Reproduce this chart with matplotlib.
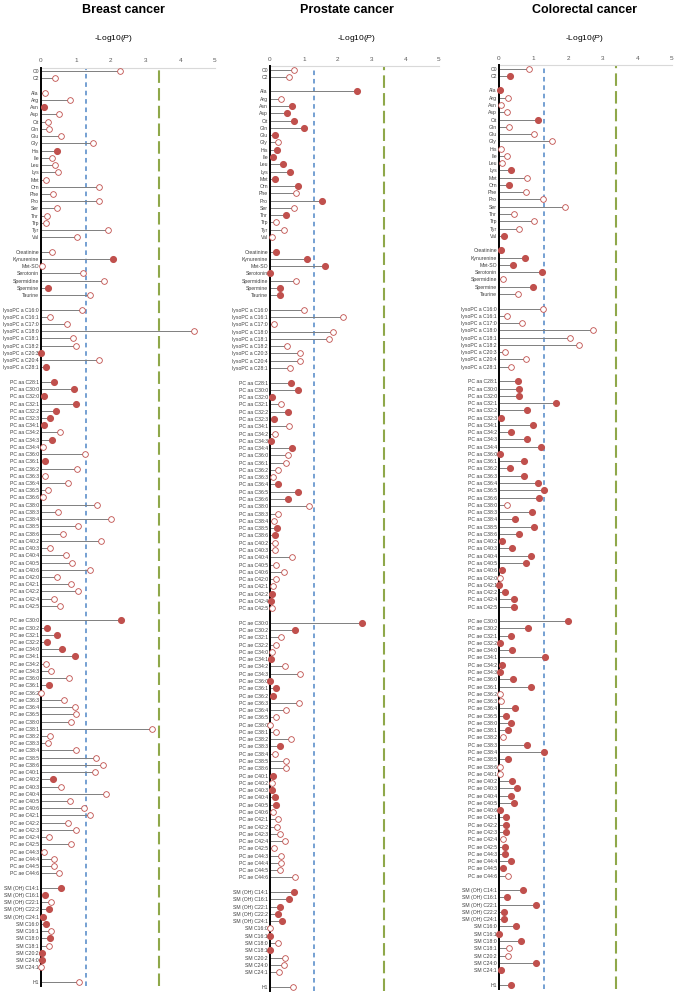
import numpy as np
import matplotlib.pyplot as plt

plt.rcParams['font.family'] = ['Liberation Sans', 'DejaVu Sans']
plt.rcParams['mathtext.fontset'] = 'custom'
plt.rcParams['mathtext.rm'] = 'Liberation Sans'
plt.rcParams['mathtext.it'] = 'Liberation Sans:italic'

# metabolite groups, in plotting order (a blank row between groups)
acylcarnitines = ['C0', 'C2']
amino_acids = ['Ala', 'Arg', 'Asn', 'Asp', 'Cit', 'Gln', 'Glu', 'Gly', 'His', 'Ile', 'Leu',
               'Lys', 'Met', 'Orn', 'Phe', 'Pro', 'Ser', 'Thr', 'Trp', 'Tyr', 'Val']
biogenic_amines = ['Creatinine', 'Kynurenine', 'Met-SO', 'Serotonin', 'Spermidine', 'Spermine', 'Taurine']
lyso_pcs = ['lysoPC a C16:0', 'lysoPC a C16:1', 'lysoPC a C17:0', 'lysoPC a C18:0', 'lysoPC a C18:1',
            'lysoPC a C18:2', 'lysoPC a C20:3', 'lysoPC a C20:4', 'lysoPC a C28:1']
pc_aa = ['PC aa ' + c for c in ['C28:1', 'C30:0', 'C32:0', 'C32:1', 'C32:2', 'C32:3', 'C34:1', 'C34:2',
                                'C34:3', 'C34:4', 'C36:0', 'C36:1', 'C36:2', 'C36:3', 'C36:4', 'C36:5',
                                'C36:6', 'C38:0', 'C38:3', 'C38:4', 'C38:5', 'C38:6', 'C40:2', 'C40:3',
                                'C40:4', 'C40:5', 'C40:6', 'C42:0', 'C42:1', 'C42:2', 'C42:4', 'C42:5']]
pc_ae = ['PC ae ' + c for c in ['C30:0', 'C30:2', 'C32:1', 'C32:2', 'C34:0', 'C34:1', 'C34:2', 'C34:3',
                                'C36:0', 'C36:1', 'C36:2', 'C36:3', 'C36:4', 'C36:5', 'C38:0', 'C38:1',
                                'C38:2', 'C38:3', 'C38:4', 'C38:5', 'C38:6', 'C40:1', 'C40:2', 'C40:3',
                                'C40:4', 'C40:5', 'C40:6', 'C42:1', 'C42:2', 'C42:3', 'C42:4', 'C42:5',
                                'C44:3', 'C44:4', 'C44:5', 'C44:6']]
sphingomyelins = ['SM (OH) C14:1', 'SM (OH) C16:1', 'SM (OH) C22:1', 'SM (OH) C22:2', 'SM (OH) C24:1',
                  'SM C16:0', 'SM C16:1', 'SM C18:0', 'SM C18:1', 'SM C20:2', 'SM C24:0', 'SM C24:1']
hexose = ['H1']

# -log10(P) per metabolite, same order as the groups above
breast_logp = [2.28, 0.39,
               0.11, 0.83, 0.08, 0.52, 0.20, 0.22, 0.57, 1.48, 0.46, 0.31, 0.39, 0.49, 0.14, 1.66, 0.34,
               1.68, 0.47, 0.17, 0.14, 1.92, 1.03,
               0.33, 2.06, 0.03, 1.20, 1.81, 0.19, 1.42,
               1.18, 0.26, 0.75, 4.40, 0.92, 1.01, 0.01, 1.67, 0.14,
               0.38, 0.94, 0.10, 1.02, 0.42, 0.25, 0.08, 0.56, 0.31, 0.05, 1.25, 0.11, 1.03, 0.11, 0.78,
               0.19, 0.07, 1.60, 0.48, 2.01, 1.05, 0.64, 1.71, 0.26, 0.73, 0.90, 1.41, 0.45, 0.85, 1.06,
               0.37, 0.56,
               2.29, 0.16, 0.47, 0.18, 0.60, 0.97, 0.15, 0.29, 0.81, 0.23, 0.00, 0.65, 0.99, 1.02, 0.86,
               3.18, 0.26, 0.21, 1.02, 1.57, 1.78, 1.56, 0.34, 0.58, 1.86, 0.83, 1.24, 1.42, 0.78, 1.02,
               0.24, 0.86, 0.08, 0.36, 0.36, 0.53,
               0.57, 0.12, 0.29, 0.24, 0.07, 0.13, 0.30, 0.27, 0.23, 0.02, 0.02, 0.00,
               1.09]
prostate_logp = [0.70, 0.56,
                 2.56, 0.32, 0.65, 0.49, 0.70, 1.00, 0.14, 0.23, 0.20, 0.08, 0.37, 0.59, 0.14, 0.83, 0.77,
                 1.53, 0.72, 0.47, 0.18, 0.40, 0.06,
                 0.17, 1.08, 1.63, 0.01, 0.77, 0.29, 0.31,
                 1.02, 2.16, 0.13, 1.85, 1.76, 0.50, 0.88, 0.88, 0.58,
                 0.62, 0.84, 0.06, 0.34, 0.52, 0.13, 0.56, 0.15, 0.03, 0.64, 0.53, 0.46, 0.23, 0.08, 0.23,
                 0.84, 0.54, 1.15, 0.25, 0.11, 0.20, 0.16, 0.15, 0.15, 0.65, 0.18, 0.40, 0.18, 0.09, 0.05,
                 0.03, 0.05,
                 2.71, 0.73, 0.34, 0.18, 0.05, 0.04, 0.44, 0.89, 0.00, 0.19, 0.10, 0.87, 0.48, 0.17, 0.01,
                 0.19, 0.61, 0.31, 0.14, 0.46, 0.46, 0.08, 0.07, 0.05, 0.15, 0.17, 0.08, 0.25, 0.20, 0.31,
                 0.44, 0.11, 0.32, 0.32, 0.29, 0.75,
                 0.72, 0.56, 0.30, 0.24, 0.35, 0.01, 0.00, 0.23, 0.00, 0.43, 0.42, 0.28,
                 0.69]
colorectal_logp = [0.87, 0.33,
                   0.03, 0.27, 0.06, 0.24, 1.14, 0.30, 1.02, 1.54, 0.06, 0.24, 0.10, 0.35, 0.82, 0.30, 0.79,
                   1.27, 1.90, 0.42, 1.01, 0.58, 0.14,
                   0.07, 0.74, 0.40, 1.25, 0.11, 0.97, 0.55,
                   1.26, 0.24, 0.66, 2.72, 2.05, 2.31, 0.18, 0.78, 0.35,
                   0.56, 0.58, 0.58, 1.64, 0.81, 0.06, 0.99, 0.36, 0.80, 1.21, 0.03, 0.73, 0.31, 0.72, 1.13,
                   1.31, 1.15, 0.23, 0.94, 0.46, 1.00, 0.57, 0.08, 0.39, 0.92, 0.79, 0.10, 0.03, 0.00, 0.18,
                   0.44, 0.42,
                   1.98, 0.85, 0.35, 0.02, 0.38, 1.32, 0.10, 0.02, 0.40, 0.93, 0.03, 0.06, 0.47, 0.20, 0.35,
                   0.27, 0.13, 0.82, 1.29, 0.27, 0.02, 0.03, 0.37, 0.51, 0.36, 0.44, 0.04, 0.21, 0.20, 0.20,
                   0.11, 0.18, 0.18, 0.36, 0.12, 0.27,
                   0.69, 0.22, 1.08, 0.14, 0.14, 0.50, 0.01, 0.65, 0.28, 0.25, 1.07, 0.06,
                   0.34]

# 1 = filled marker, 0 = open marker
breast_filled = [0, 0,
                 0, 0, 1, 0, 0, 0, 0, 0, 1, 0, 0, 0, 0, 0, 0, 0, 0, 0, 0, 0, 0,
                 0, 1, 0, 0, 0, 1, 0,
                 0, 0, 0, 0, 0, 0, 1, 0, 1,
                 1, 1, 1, 1, 1, 1, 1, 0, 1, 0, 0, 1, 0, 0, 0, 0, 0, 0, 0, 0, 0, 0, 0, 0, 0, 0, 0, 0, 0, 0, 0, 0,
                 1, 1, 1, 1, 1, 1, 0, 0, 0, 1, 0, 0, 0, 0, 0, 0, 0, 0, 0, 0, 0, 0, 1, 0, 0, 0, 0, 0, 0, 0, 0, 0,
                 0, 0, 0, 0,
                 1, 1, 0, 1, 1, 1, 0, 1, 0, 1, 1, 0,
                 0]
prostate_filled = [0, 0,
                   1, 0, 1, 1, 1, 1, 1, 0, 1, 1, 1, 1, 1, 1, 0, 1, 0, 1, 0, 0, 0,
                   1, 1, 1, 1, 0, 1, 1,
                   0, 0, 0, 0, 0, 0, 0, 0, 0,
                   1, 1, 1, 0, 1, 1, 0, 0, 1, 1, 0, 0, 0, 0, 1, 1, 1, 0, 0, 0, 1, 1, 0, 0, 0, 0, 0, 0, 0, 1, 1, 0,
                   1, 1, 0, 0, 0, 1, 0, 0, 1, 1, 1, 0, 0, 0, 0, 0, 0, 1, 0, 0, 0, 1, 0, 1, 1, 1, 0, 0, 0, 0, 0, 0,
                   0, 0, 0, 0,
                   1, 1, 1, 1, 1, 0, 1, 0, 1, 0, 0, 0,
                   0]
colorectal_filled = [0, 1,
                     1, 0, 0, 0, 1, 0, 0, 0, 0, 0, 0, 1, 0, 1, 0, 0, 0, 0, 0, 0, 1,
                     1, 1, 1, 1, 0, 1, 0,
                     0, 0, 0, 0, 0, 0, 0, 0, 0,
                     1, 1, 1, 1, 1, 1, 1, 1, 1, 1, 1, 1, 1, 1, 1, 1, 1, 0, 1, 1, 1, 1, 1, 1, 1, 1, 1, 0, 1, 1, 1, 1,
                     1, 1, 1, 1, 1, 1, 1, 1, 1, 1, 0, 0, 1, 1, 1, 1, 0, 1, 1, 1, 0, 0, 1, 1, 1, 1, 1, 1, 1, 1, 0, 1,
                     1, 1, 1, 0,
                     1, 1, 1, 1, 1, 1, 1, 1, 0, 0, 1, 1,
                     1]

p_nominal = 1.30      # -log10(0.05)
p_bonferroni = 3.38   # -log10(0.05 / 120)

groups = [acylcarnitines, amino_acids, biogenic_amines, lyso_pcs, pc_aa, pc_ae, sphingomyelins, hexose]
labels, rows = [], []
slot = 0
for g in groups:
    for name in g:
        labels.append(name)
        rows.append(slot)
        slot += 1
    slot += 1
rows = np.array(rows)
last = rows[-1]

W, H = 674, 992
fig = plt.figure(figsize=(W / 100, H / 100), dpi=100)

# (title, values, filled, axes box in px: left, top, width, bottom, title x, label x)
panels = [
    ('Breast cancer', breast_logp, breast_filled, (41, 67.5, 174, 986), 123, 113),
    ('Prostate cancer', prostate_logp, prostate_filled, (270, 66, 169, 991), 347, 356),
    ('Colorectal cancer', colorectal_logp, colorectal_filled, (499, 65, 173, 989), 585, 584),
]

red = '#C0504D'
for title, vals, filled, box, tx, lx in panels:
    left, top, width, bottom = box
    ax = fig.add_axes([left / W, 1 - bottom / H, width / W, (bottom - top) / H])
    vals = np.array(vals)
    filled = np.array(filled, dtype=bool)

    ax.hlines(rows, 0, vals, color='#7f7f7f', lw=0.7, zorder=2)
    ax.plot(vals[filled], rows[filled], 'o', ms=4.1, color=red, mec=red, zorder=5, clip_on=False)
    ax.plot(vals[~filled], rows[~filled], 'o', ms=4.1, mfc='white', mec=red, mew=0.6, zorder=5,
            clip_on=False)

    ax.axvline(p_nominal, color='#4F86C6', lw=1.1, ls=(0, (3, 2.5)), zorder=1)
    ax.axvline(p_bonferroni, color='#8FA84A', lw=1.5, ls=(0, (6, 2.5)), zorder=1)
    ax.axvline(0, color='black', lw=1.4, zorder=4, clip_on=False)

    ax.set_xlim(0, 5)
    ax.set_ylim(last + 0.6, -0.5)
    ax.set_yticks(rows)
    ax.set_yticklabels(labels, fontsize=3.7, color='#404040')
    ax.tick_params(axis='y', length=0, pad=1.5)
    ax.xaxis.tick_top()
    ax.set_xticks(range(6))
    ax.tick_params(axis='x', length=0, pad=3, labelsize=4.6, labelcolor='#595959')
    for s in ['right', 'bottom', 'left']:
        ax.spines[s].set_visible(False)
    ax.spines['top'].set_color('#d9d9d9')
    ax.spines['top'].set_linewidth(0.8)

    fig.text(tx / W, 1 - 10 / H, title, ha='center', va='center', fontsize=9, fontweight='bold')
    fig.text(lx / W, 1 - 38 / H, '-Log10($\\mathit{P}$)', ha='center', va='center', fontsize=6)

fig.savefig('out.png', dpi=100)
